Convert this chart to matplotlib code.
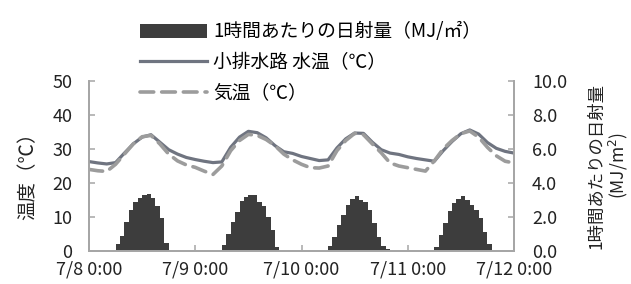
import matplotlib
matplotlib.use("Agg")
import matplotlib.pyplot as plt
import numpy as np

plt.rcParams['font.family'] = ['Noto Sans CJK JP', 'DejaVu Sans']

# 経過時間（7/8 0:00 からの時間）
temp_hours = list(range(0, 97, 2))
# 小排水路 水温（℃）
water_temp = [26.3, 25.9, 25.6, 26.0, 28.8, 31.5, 33.5, 34.2, 32.0, 29.8, 28.5, 27.5, 26.9,
              26.4, 26.0, 26.2, 30.5, 33.5, 35.2, 34.8, 33.3, 31.0, 29.2, 28.7, 27.8,
              27.2, 26.6, 26.8, 30.3, 33.0, 34.7, 34.6, 32.0, 29.8, 28.8, 28.4, 27.7,
              27.2, 26.8, 26.4, 29.5, 32.2, 34.5, 35.6, 34.4, 31.9, 30.2, 29.3, 28.8]
# 気温（℃）
air_temp = [24.0, 23.6, 23.4, 25.5, 28.5, 31.5, 33.6, 34.0, 31.5, 28.5, 26.5, 25.3, 24.6,
            23.5, 22.5, 25.0, 29.5, 32.5, 34.3, 34.0, 32.8, 31.0, 28.5, 26.8, 25.5,
            24.5, 24.4, 25.0, 29.5, 32.5, 34.6, 34.2, 31.5, 28.9, 25.9, 25.0, 24.5,
            24.0, 23.5, 26.5, 30.0, 32.5, 34.5, 35.3, 33.5, 30.5, 28.0, 26.4, 25.9]

# 1時間あたりの日射量（MJ/㎡）: 各日 6:00 から 1時間ごと
day_starts = [6, 30, 54, 78]
solar = [
    [0.39, 0.89, 1.68, 2.39, 2.86, 3.14, 3.31, 3.37, 3.14, 2.66, 1.93, 0.45],
    [0.35, 1.00, 1.68, 2.27, 2.92, 3.17, 3.31, 3.31, 2.90, 2.66, 1.99, 1.24, 0.22],
    [0.30, 0.85, 1.54, 2.13, 2.72, 3.06, 3.21, 3.00, 2.90, 2.43, 1.64, 0.85, 0.30, 0.10],
    [0.26, 0.95, 1.64, 2.33, 2.82, 3.06, 3.25, 3.00, 2.72, 2.43, 1.93, 1.14, 0.41],
]

xtick_hours = [0, 24, 48, 72, 96]
xtick_labels = ['7/8 0:00', '7/9 0:00', '7/10 0:00', '7/11 0:00', '7/12 0:00']

spine_col = '#a6a6a6'
bar_col = '#3d3d3d'
water_col = '#6f7480'
air_col = '#9c9c9c'

fig = plt.figure(figsize=(6.31, 2.84), dpi=100)
ax = fig.add_axes([89 / 631, 1 - 251 / 284, 425 / 631, 170 / 284])
ax2 = ax.twinx()

bar_x = []
bar_h = []
for start, vals in zip(day_starts, solar):
    for i, v in enumerate(vals):
        bar_x.append(start + i)
        bar_h.append(v)
bars = ax2.bar(bar_x, bar_h, width=1.0, align='edge', color=bar_col, linewidth=0,
               label='1時間あたりの日射量（MJ/㎡）')

ax.set_zorder(ax2.get_zorder() + 1)
ax.patch.set_visible(False)
l1, = ax.plot(temp_hours, water_temp, color=water_col, lw=2.3, solid_joinstyle='round',
              label='小排水路 水温（℃）')
l2, = ax.plot(temp_hours, air_temp, color=air_col, lw=2.6, dashes=(3.8, 2.2),
              dash_capstyle='round', label='気温（℃）')

ax.set_xlim(0, 96)
ax.set_ylim(0, 50)
ax2.set_ylim(0, 10)
ax.set_yticks(range(0, 51, 10))
ax2.set_yticks(np.arange(0, 10.1, 2))
ax2.set_yticklabels([f'{v:.1f}' for v in np.arange(0, 10.1, 2)])
ax.set_xticks(xtick_hours)
ax.set_xticklabels(xtick_labels)

for a in (ax, ax2):
    a.spines['top'].set_visible(False)
    for s in ('left', 'right', 'bottom'):
        a.spines[s].set_color(spine_col)
        a.spines[s].set_linewidth(1.3)
ax.tick_params(axis='both', direction='in', length=4, width=1.1, color=spine_col,
               labelsize=13, labelcolor='#222222')
ax.tick_params(axis='y', pad=12)
ax.tick_params(axis='x', pad=7)
ax2.tick_params(axis='y', direction='in', length=4, width=1.1, color=spine_col,
                labelsize=13, labelcolor='#222222', pad=13)

ax.set_ylabel('温度（℃）', fontsize=14, color='#222222')
ax.yaxis.set_label_coords(-0.12, 0.47)
ax2.set_ylabel('1時間あたりの日射量\n(MJ/m$^2$)', fontsize=12.5, color='#222222',
               rotation=90, linespacing=1.1)
ax2.yaxis.set_label_coords(1.172, 0.5)

fig.legend(handles=[bars, l1, l2], loc='upper left', bbox_to_anchor=(132 / 631, 1 - 14 / 284),
           frameon=False, fontsize=13.5, handlelength=3.6, handleheight=0.75, handletextpad=0.32,
           labelspacing=0.5, borderaxespad=0)

fig.savefig('out.png', dpi=100)
